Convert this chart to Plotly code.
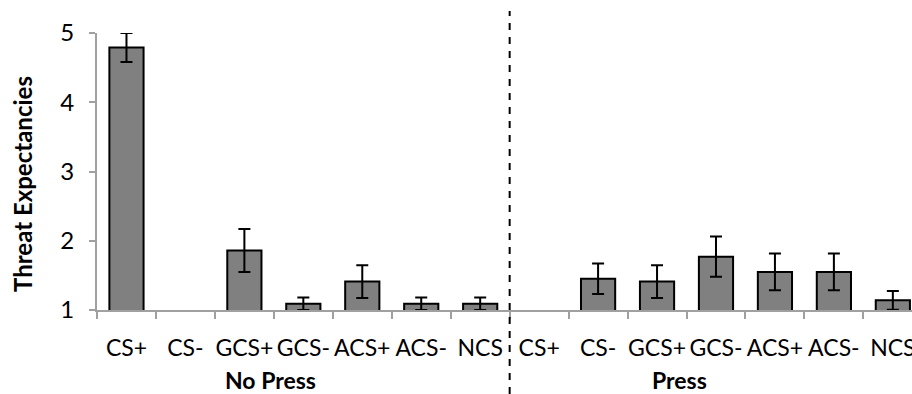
import plotly.graph_objects as go

labels = ["CS+", "CS-", "GCS+", "GCS-", "ACS+", "ACS-", "NCS",
          "CS+", "CS-", "GCS+", "GCS-", "ACS+", "ACS-", "NCS"]
groups = ["No Press", "Press"]
values = [4.79, None, 1.86, 1.09, 1.41, 1.09, 1.09,
          None, 1.45, 1.41, 1.77, 1.55, 1.55, 1.14]
errors = [0.21, None, 0.31, 0.09, 0.235, 0.09, 0.09,
          None, 0.22, 0.235, 0.29, 0.265, 0.265, 0.135]

pos = list(range(len(labels)))
bounds = [p - 0.5 for p in pos] + [pos[-1] + 0.5]

W, H = 912, 394
L, R, T, B = 97, 0, 33, 84
pw, ph = W - L - R, H - T - B
GRAY = "#a0a0a0"
FONT = "Lato"

fig = go.Figure()
fig.add_trace(go.Bar(
    x=pos, y=values,
    marker=dict(color="#808080", line=dict(color="black", width=2)),
    width=0.58,
    error_y=dict(type="data", array=errors, visible=True,
                 color="black", thickness=2, width=6),
    showlegend=False,
))

fig.update_layout(
    width=W, height=H,
    margin=dict(l=L, r=R, t=T, b=B, pad=0, autoexpand=False),
    paper_bgcolor="white", plot_bgcolor="white",
    font=dict(family=FONT, size=23, color="black"),
    xaxis=dict(
        range=[-0.5, 13.325], automargin=False,
        tickmode="array", tickvals=pos, ticktext=labels, tickangle=0,
        ticks="", ticklabelstandoff=16, ticklabeloverflow="allow",
        showline=True, linecolor=GRAY, linewidth=2,
        showgrid=False, zeroline=False,
        minor=dict(tickmode="array", tickvals=bounds, ticks="outside",
                   ticklen=7, tickcolor=GRAY, tickwidth=2, showgrid=False),
    ),
    yaxis=dict(
        range=[1, 5], dtick=1, tick0=1, automargin=False,
        ticks="outside", ticklen=6, tickcolor=GRAY, tickwidth=2,
        showline=True, linecolor=GRAY, linewidth=2,
        showgrid=False, zeroline=False, ticklabelstandoff=10,
        tickfont=dict(size=24),
    ),
)

fig.add_shape(type="line", xref="x", yref="paper",
              x0=6.5, x1=6.5, y0=(310 - 394) / ph, y1=(310 - 11) / ph,
              line=dict(color="black", width=2, dash="7px,7px"))

group_x = [(270 - L) / pw, (679 - L) / pw]
for g, gx in zip(groups, group_x):
    fig.add_annotation(text="<b>%s</b>" % g, xref="paper", yref="paper",
                       x=gx, y=(310 - 380) / ph, showarrow=False,
                       xanchor="center", yanchor="middle",
                       font=dict(family=FONT, size=23))

fig.add_annotation(text="<b>Threat Expectancies</b>", xref="paper", yref="paper",
                   x=(22 - L) / pw, y=(310 - 184) / ph, textangle=-90,
                   showarrow=False, xanchor="center", yanchor="middle",
                   font=dict(family=FONT, size=24))

fig.write_html("out.html")
